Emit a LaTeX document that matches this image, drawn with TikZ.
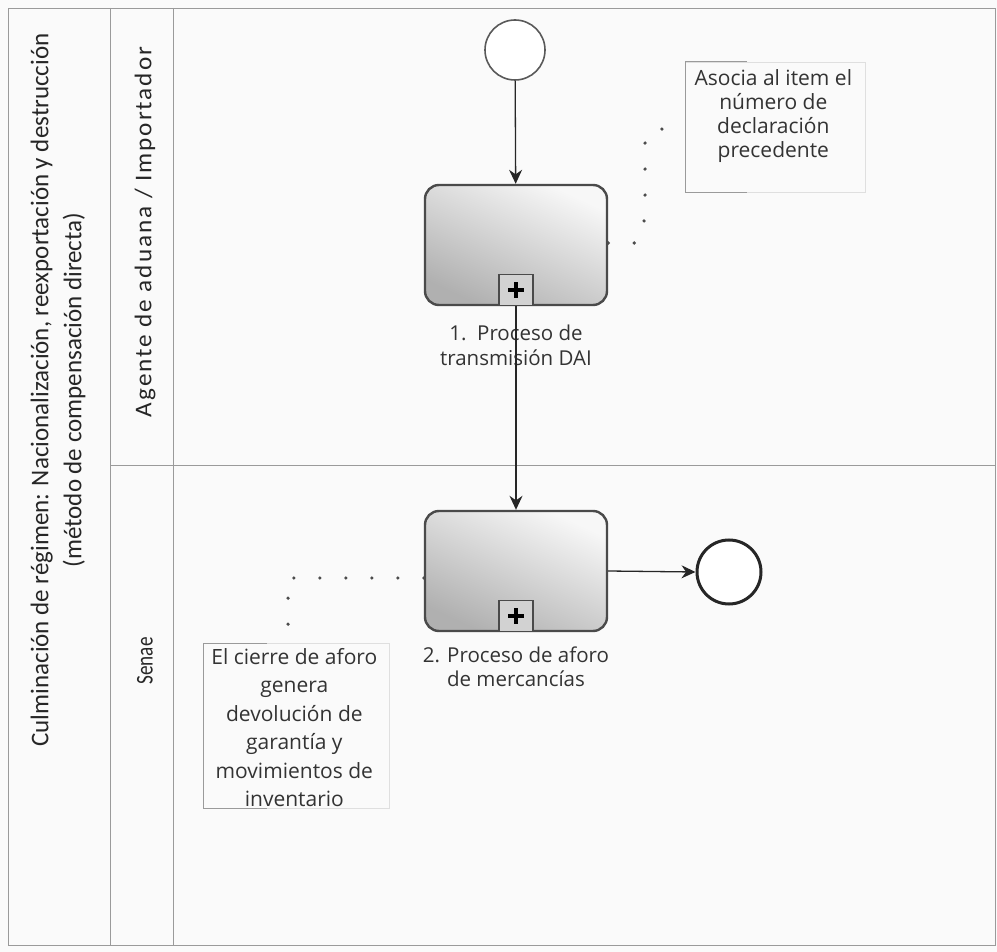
\documentclass[tikz,border=0pt]{standalone}
\usepackage{fontspec}
\setmainfont{Open Sans}
\newfontfamily\poolfont[FakeStretch=0.98]{Carlito}
\newfontfamily\lanefont[FakeStretch=1.05,LetterSpace=8]{Carlito}
\newfontfamily\senaefont[FakeStretch=0.8]{Carlito}
\usetikzlibrary{arrows.meta}
\definecolor{frame}{HTML}{9A9A9A}
\definecolor{taskedge}{HTML}{4A4A4A}
\begin{document}
\begin{tikzpicture}[x=1pt,y=-1pt,
  lanetxt/.style={rotate=90,text=black!85,align=center,inner sep=0pt},
  task/.style={draw=taskedge,line width=2.4pt,rounded corners=14pt,minimum width=182pt,minimum height=120pt,
    top color=gray!6,bottom color=gray!62,shading angle=-25},
  tasklbl/.style={font=\fontsize{20.5}{24.5}\selectfont,text=black!80,align=center,inner sep=0pt},
  event/.style={circle,draw=black!65,line width=1.6pt,minimum size=60pt,inner sep=0pt,fill=white},
  endevent/.style={event,line width=3pt,draw=black!85,minimum size=64pt},
  flow/.style={draw=black!85,line width=1.3pt,-{Stealth[length=14pt,width=13pt]}},
  assoc/.style={draw=black!70,line width=3.6pt,dash pattern=on 0pt off 26pt,line cap=round},
  annot/.style={draw=gray!25,line width=0.7pt},
  bracket/.style={draw=frame,line width=1pt},
  annottxt/.style={align=center,font=\fontsize{21}{24}\selectfont,text=black!80,inner sep=0pt},
  plusbox/.style={draw=taskedge,line width=1.6pt,fill=gray!35,minimum width=34pt,minimum height=31pt,inner sep=0pt}
]
\useasboundingbox (0,0) rectangle (997,952);
\fill[gray!4] (0,0) rectangle (997,952);
% frame and lanes
\draw[frame,line width=0.8pt] (8,8) rectangle (995,945);
\draw[frame,line width=0.8pt] (110,8) -- (110,945);
\draw[frame,line width=0.8pt] (173,8) -- (173,945);
\draw[frame,line width=0.8pt] (110,465) -- (995,465);
% labels
\node[lanetxt,font=\poolfont\fontsize{25.5}{33}\selectfont] (pool) at (58,390) {Culminación de régimen: Nacionalización, reexportación y destrucción\\(método de compensación directa)};
\node[lanetxt,font=\lanefont\fontsize{24}{30}\selectfont] (lane1) at (145,232) {Agente de aduana / Importador};
\node[lanetxt,font=\senaefont\fontsize{24}{30}\selectfont] (lane2) at (145,661) {Senae};
% events and tasks
\node[event] (start) at (515,50) {};
\node[task] (t1) at (516,245) {};
\node[plusbox,anchor=south] (p1) at (t1.south) {};
\draw[line width=4.5pt] ([yshift=-8pt]p1.center) -- ([yshift=8pt]p1.center) ([xshift=-8pt]p1.center) -- ([xshift=8pt]p1.center);
\node[tasklbl,anchor=north] (l1) at ([yshift=-19pt]t1.south) {1.\ \ Proceso de\\transmisión DAI};
\node[task] (t2) at (516,571) {};
\node[plusbox,anchor=south] (p2) at (t2.south) {};
\draw[line width=4.5pt] ([yshift=-8pt]p2.center) -- ([yshift=8pt]p2.center) ([xshift=-8pt]p2.center) -- ([xshift=8pt]p2.center);
\node[tasklbl,anchor=north] (l2) at ([yshift=-14pt]t2.south) {2. Proceso de aforo\\de mercancías};
\node[endevent] (end) at (729,572) {};
% flows
\draw[flow] (start) -- (t1);
\draw[flow] (t1.south) -- (t2.north);
\draw[flow] (t2.east) -- (end.west);
% annotations
\node[annot,minimum width=180pt,minimum height=130pt,anchor=north west] (a1) at (685,62) {};
\draw[bracket] ([xshift=62pt]a1.north west) -- (a1.north west) -- (a1.south west) -- ([xshift=62pt]a1.south west);
\node[annottxt,anchor=north] (a1t) at ([yshift=-7pt,xshift=-2pt]a1.north) {Asocia al item el\\número de\\declaración\\precedente};
\node[annot,minimum width=186pt,minimum height=165pt,anchor=north west] (a2) at (203,643) {};
\draw[bracket] ([xshift=64pt]a2.north west) -- (a2.north west) -- (a2.south west) -- ([xshift=64pt]a2.south west);
\node[annottxt,anchor=north,font=\fontsize{21}{28.5}\selectfont] (a2t) at ([yshift=-5pt,xshift=-2pt]a2.north) {El cierre de aforo\\genera\\devolución de\\garantía y\\movimientos de\\inventario};
\coordinate (c0) at (637,243);
\coordinate (c1) at (645,218);
\coordinate (c2) at (645,135);
\coordinate (d1) at (288,578);
\draw[assoc] (t1.east |- c0) -- (c0) -- (c1) -- (c2) -- (a1.west |- 0,121);
\draw[assoc] (t2.west |- d1) -- (d1) -- (a2.north -| d1);
\end{tikzpicture}
\end{document}
